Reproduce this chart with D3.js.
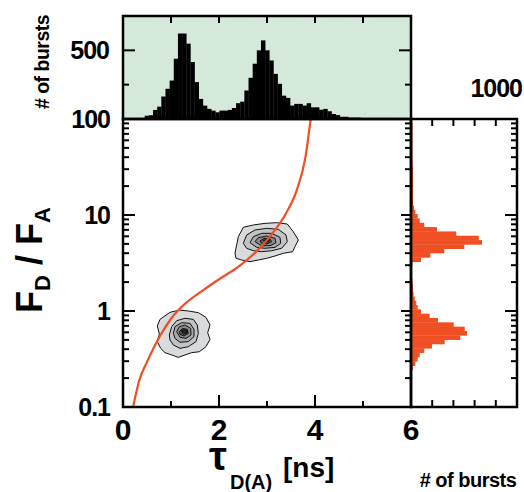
<!DOCTYPE html>
<html><head><meta charset="utf-8">
<script src="https://cdn.jsdelivr.net/npm/d3@7"></script>
<style>
body{margin:0;background:#fff}
svg{display:block}
text{font-family:'Liberation Sans',Arial,Helvetica,sans-serif;font-weight:bold;fill:#000}
</style>
</head><body>
<svg id="chart" width="524" height="492"></svg>
<script>
// ---------- DATA ----------
// top histogram: lifetime tau_D(A) [ns]
const topBinStart = 0.02;
const topBinWidth = 0.0865;
const topCounts = [102,102,103,106,106,119,122,153,172,231,276,324,451,598,598,539,432,315,217,178,
  159,149,139,149,149,153,164,192,201,266,340,422,500,558,500,441,363,305,236,223,
  178,188,188,178,192,168,168,154,159,145,129,123,113,113,108,108,108,103,102];
// right histogram: log10(F_D/F_A) bins
const rightBinStartLog = -1.02;
const rightBinWidthLog = 0.0451;
const rightCounts = [0,0,0,0,0,0,0,5,9,19,41,63,82,125,198,318,465,528,507,403,
  255,176,94,63,50,35,24,19,19,14,9,9,9,14,94,182,314,503,670,639,
  427,245,125,82,63,41,28,19,19,19,19,19,19,19,19,19,14,14,14,14,
  14,14,14,14,14,14,9];
// static FRET line
const lineTau   = [0.21,0.34,0.5,0.77,1.0,1.3,1.65,2.0,2.4,2.8,3.1,3.4,3.62,3.8,3.91];
const lineRatio = [0.1,0.19,0.295,0.55,0.83,1.2,1.62,2.14,2.88,4.27,6.31,10.5,18.2,39.8,100];
// 2D contour levels, [tau, log10(FD/FA)] polygons, outer -> inner
const blob1 = [
 [[0.715,-0.156],[0.771,-0.087],[0.979,-0.014],[1.174,0.010],[1.361,0.0],[1.569,-0.017],[1.729,-0.066],[1.813,-0.146],[1.764,-0.226],[1.813,-0.295],[1.729,-0.372],[1.590,-0.424],[1.431,-0.434],[1.292,-0.458],[1.153,-0.483],[1.014,-0.458],[0.875,-0.434],[0.785,-0.389],[0.715,-0.319],[0.757,-0.240]],
 [[0.965,-0.250],[1.014,-0.163],[1.118,-0.101],[1.292,-0.076],[1.465,-0.087],[1.549,-0.146],[1.569,-0.233],[1.521,-0.319],[1.361,-0.372],[1.188,-0.389],[1.049,-0.354],[0.979,-0.302]],
 [[1.049,-0.233],[1.083,-0.163],[1.222,-0.122],[1.396,-0.128],[1.479,-0.191],[1.479,-0.267],[1.361,-0.319],[1.188,-0.326],[1.083,-0.285]],
 [[1.118,-0.215],[1.174,-0.163],[1.292,-0.146],[1.410,-0.181],[1.417,-0.250],[1.313,-0.285],[1.188,-0.274]],
 [[1.174,-0.215],[1.243,-0.181],[1.340,-0.191],[1.361,-0.233],[1.271,-0.260],[1.188,-0.243]],
 [[1.208,-0.198],[1.326,-0.198],[1.347,-0.226],[1.257,-0.240]]
];
const blob2 = [
 [[2.333,0.601],[2.403,0.774],[2.507,0.872],[2.715,0.896],[2.958,0.913],[3.201,0.920],[3.423,0.906],[3.548,0.826],[3.653,0.740],[3.583,0.670],[3.535,0.618],[3.340,0.601],[3.167,0.573],[2.993,0.549],[2.819,0.531],[2.646,0.514],[2.472,0.531],[2.354,0.549]],
 [[2.507,0.705],[2.576,0.792],[2.750,0.844],[2.993,0.861],[3.236,0.851],[3.396,0.792],[3.423,0.722],[3.305,0.653],[3.097,0.628],[2.889,0.618],[2.715,0.628],[2.576,0.653]],
 [[2.646,0.712],[2.715,0.774],[2.889,0.809],[3.097,0.809],[3.271,0.767],[3.285,0.705],[3.167,0.663],[2.958,0.653],[2.785,0.663]],
 [[2.750,0.722],[2.819,0.764],[2.993,0.781],[3.167,0.757],[3.188,0.712],[3.063,0.680],[2.889,0.680]],
 [[2.854,0.729],[2.938,0.757],[3.063,0.750],[3.097,0.722],[2.993,0.698],[2.889,0.705]],
 [[2.924,0.733],[2.993,0.747],[3.049,0.733],[2.993,0.715]]
];
const levelFills = ['#d9dadb','#c2c3c4','#a8a9aa','#8a8b8c','#5a5a5a','#222222'];
// ticks / labels
const xTickLabels = [0,2,4,6];
const xMinorTicks = [1,3,5];
const yTickLabels = [0.1,1,10,100];
const topTickValues = [300,500];
const topTickLabels = [500];
const rightTickValues = [200,400,600,800];

// ---------- LAYOUT ----------
const L = 123, R = 411, T = 119, B = 407, HT = 16, RR = 517;
const svg = d3.select('#chart');
const x = d3.scaleLinear().domain([0,6]).range([L,R]);
const y = d3.scaleLog().domain([0.1,100]).range([B,T]);
const yTop = d3.scaleLinear().domain([100,700]).range([T,HT]);
const xRight = d3.scaleLinear().domain([0,1000]).range([R,RR]);

// top histogram
svg.append('rect').attr('x',L).attr('y',HT).attr('width',R-L).attr('height',T-HT).attr('fill','#d4e9da');
svg.append('g').selectAll('rect').data(topCounts).join('rect')
  .attr('x',(d,i)=>x(topBinStart+i*topBinWidth))
  .attr('width',(d,i)=>x(topBinStart+(i+1)*topBinWidth)-x(topBinStart+i*topBinWidth)+0.3)
  .attr('y',d=>yTop(d)).attr('height',d=>T-yTop(d)).attr('fill','#000');

// right histogram
svg.append('g').selectAll('rect').data(rightCounts).join('rect')
  .attr('y',(d,i)=>y(Math.min(100,Math.pow(10,rightBinStartLog+(i+1)*rightBinWidthLog))))
  .attr('height',(d,i)=>{const lo=Math.max(0.1,Math.pow(10,rightBinStartLog+i*rightBinWidthLog));const hi=Math.min(100,Math.pow(10,rightBinStartLog+(i+1)*rightBinWidthLog));return Math.max(0,y(lo)-y(hi)+0.3);})
  .attr('x',R).attr('width',d=>xRight(d)-R).attr('fill','#f04e23');

// contours
const poly = d3.line().x(d=>x(d[0])).y(d=>y(Math.pow(10,d[1]))).curve(d3.curveLinearClosed);
[blob1,blob2].forEach(blob=>{
  svg.append('g').selectAll('path').data(blob).join('path')
    .attr('d',poly).attr('fill',(d,i)=>levelFills[i]).attr('stroke','#111').attr('stroke-width',1).attr('stroke-linejoin','round');
});

// fret line
svg.append('clipPath').attr('id','clipMain').append('rect').attr('x',L).attr('y',T).attr('width',R-L).attr('height',B-T);
const curvePts = lineTau.map((t,i)=>[t,lineRatio[i]]);
svg.append('path').datum(curvePts).attr('clip-path','url(#clipMain)')
  .attr('d',d3.line().x(d=>x(d[0])).y(d=>y(d[1])).curve(d3.curveMonotoneX))
  .attr('fill','none').attr('stroke','#f04e23').attr('stroke-width',2.2);

// ---------- AXES ----------
const ax = svg.append('g').attr('stroke','#000').attr('stroke-width',2);
function tick(x1,y1,x2,y2){ax.append('line').attr('x1',x1).attr('y1',y1).attr('x2',x2).attr('y2',y2);}
y.ticks().forEach(v=>{
  const major = yTickLabels.includes(v);
  const len = major?12:6;
  const yy = y(v);
  if(v>=0.1 && v<=100){
    tick(L,yy,L+len,yy);
    tick(R,yy,R-len+(major?2:0),yy);
    tick(RR,yy,RR-len,yy);
  }
});
xTickLabels.forEach(v=>tick(x(v),B,x(v),B-12));
xMinorTicks.forEach(v=>tick(x(v),B,x(v),B-6));
[1,2,3,4,5].forEach(v=>tick(x(v),HT,x(v),HT+7));
topTickValues.forEach(v=>{const len=topTickLabels.includes(v)?12:6;tick(L,yTop(v),L+len,yTop(v));tick(R,yTop(v),R-len,yTop(v));});
rightTickValues.forEach(v=>{tick(xRight(v),T,xRight(v),T+7);tick(xRight(v),B,xRight(v),B-7);});
const fr = svg.append('g').attr('fill','none').attr('stroke','#000').attr('stroke-width',2.5);
fr.append('rect').attr('x',L).attr('y',HT).attr('width',R-L).attr('height',T-HT);
fr.append('rect').attr('x',L).attr('y',T).attr('width',R-L).attr('height',B-T);
fr.append('rect').attr('x',R).attr('y',T).attr('width',RR-R).attr('height',B-T);

// ---------- TEXT ----------
yTickLabels.forEach(v=>svg.append('text').attr('x',110).attr('y',y(v)+9).attr('text-anchor','end')
  .attr('font-size',25).attr('letter-spacing',-1).text(v));
topTickLabels.forEach(v=>svg.append('text').attr('x',109).attr('y',yTop(v)+9).attr('text-anchor','end')
  .attr('font-size',25).attr('letter-spacing',-1).text(v));
xTickLabels.forEach(v=>svg.append('text').attr('x',x(v)).attr('y',440).attr('text-anchor','middle')
  .attr('font-size',30).text(v));
svg.append('text').attr('x',522).attr('y',97).attr('text-anchor','end').attr('font-size',25).attr('letter-spacing',-1).text('1000');
svg.append('text').attr('transform','translate(49,62) rotate(-90)').attr('text-anchor','middle')
  .attr('font-size',19.5).attr('letter-spacing',-0.5).text('# of bursts');
svg.append('text').attr('x',468).attr('y',487).attr('text-anchor','middle')
  .attr('font-size',20).attr('letter-spacing',-0.5).text('# of bursts');
// y title
const yt = svg.append('text').attr('transform','translate(42,260) rotate(-90)').attr('text-anchor','middle').attr('font-size',36);
yt.append('tspan').text('F');
yt.append('tspan').attr('font-size',22).attr('dy',8).text('D');
yt.append('tspan').attr('dy',-8).text(' / F');
yt.append('tspan').attr('font-size',22).attr('dy',8).text('A');
// x title
svg.append('text').attr('x',209).attr('y',470)
  .attr('font-family','Liberation Serif,DejaVu Serif,serif').attr('font-weight','normal').attr('font-size',40).text('τ');
const xt = svg.append('text').attr('x',230).attr('y',489);
xt.append('tspan').attr('font-size',20).text('D(A)');
xt.append('tspan').attr('font-size',28).attr('x',283).attr('y',477).text('[ns]');
</script>
</body></html>
